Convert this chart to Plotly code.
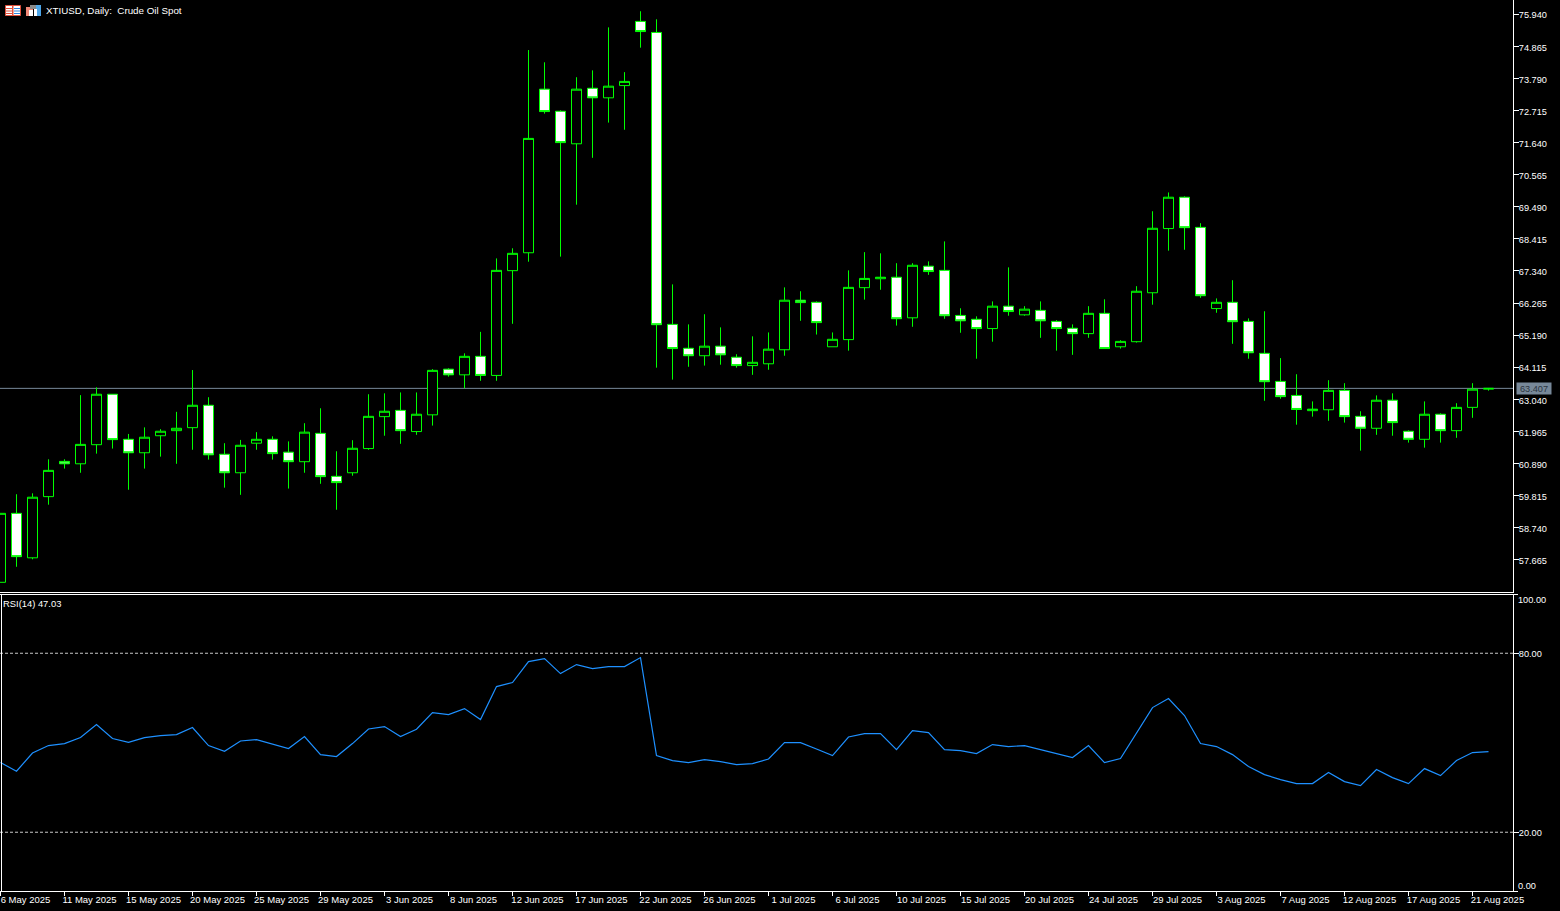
import plotly.graph_objects as go

TITLE = "XTIUSD, Daily:  Crude Oil Spot"
RSI_LABEL = "RSI(14) 47.03"
CURRENT_PRICE = 63.407

DATES = [
    "6 May 2025","7 May 2025","8 May 2025","9 May 2025","11 May 2025","12 May 2025","13 May 2025","14 May 2025",
    "15 May 2025","16 May 2025","18 May 2025","19 May 2025","20 May 2025","21 May 2025","22 May 2025","23 May 2025",
    "25 May 2025","26 May 2025","27 May 2025","28 May 2025","29 May 2025","30 May 2025","1 Jun 2025","2 Jun 2025",
    "3 Jun 2025","4 Jun 2025","5 Jun 2025","6 Jun 2025","8 Jun 2025","9 Jun 2025","10 Jun 2025","11 Jun 2025",
    "12 Jun 2025","13 Jun 2025","15 Jun 2025","16 Jun 2025","17 Jun 2025","18 Jun 2025","19 Jun 2025","20 Jun 2025",
    "22 Jun 2025","23 Jun 2025","24 Jun 2025","25 Jun 2025","26 Jun 2025","27 Jun 2025","29 Jun 2025","30 Jun 2025",
    "1 Jul 2025","2 Jul 2025","3 Jul 2025","4 Jul 2025","6 Jul 2025","7 Jul 2025","8 Jul 2025","9 Jul 2025",
    "10 Jul 2025","11 Jul 2025","13 Jul 2025","14 Jul 2025","15 Jul 2025","16 Jul 2025","17 Jul 2025","18 Jul 2025",
    "20 Jul 2025","21 Jul 2025","22 Jul 2025","23 Jul 2025","24 Jul 2025","25 Jul 2025","27 Jul 2025","28 Jul 2025",
    "29 Jul 2025","30 Jul 2025","31 Jul 2025","1 Aug 2025","3 Aug 2025","4 Aug 2025","5 Aug 2025","6 Aug 2025",
    "7 Aug 2025","8 Aug 2025","10 Aug 2025","11 Aug 2025","12 Aug 2025","13 Aug 2025","14 Aug 2025","15 Aug 2025",
    "17 Aug 2025","18 Aug 2025","19 Aug 2025","20 Aug 2025","21 Aug 2025","22 Aug 2025",
]

OPENS = [
    56.91,59.22,57.73,59.78,60.96,60.88,61.52,63.21,61.70,61.25,61.82,61.99,62.09,62.84,61.20,60.58,
    61.57,61.70,61.27,60.95,61.90,60.46,60.58,61.39,62.46,62.67,61.96,62.52,64.05,63.86,64.48,63.84,
    67.35,67.95,73.43,72.69,71.60,73.46,73.14,73.55,75.70,75.33,65.55,64.75,64.50,64.82,64.45,64.17,
    64.23,64.70,66.36,66.29,64.80,65.04,66.78,67.08,67.13,65.77,67.50,67.36,65.85,65.72,65.41,66.16,
    65.87,66.02,65.65,65.42,65.24,65.92,64.80,64.97,66.61,68.76,69.81,68.80,66.08,66.29,65.65,64.58,
    63.64,63.17,62.66,62.69,63.34,62.47,62.07,63.01,61.97,61.70,62.54,61.99,62.77,63.38,
]
HIGHS = [
    59.22,59.86,59.89,61.03,61.03,63.18,63.44,63.21,61.88,62.10,62.04,62.62,64.02,63.11,61.57,61.68,
    61.94,61.80,61.63,62.24,62.74,61.30,61.67,63.21,63.24,63.27,63.27,64.05,64.08,64.58,65.30,67.76,
    68.10,74.74,74.33,72.72,73.83,74.06,75.50,74.00,76.04,75.77,66.89,65.55,65.89,65.45,64.55,65.15,
    65.28,66.79,66.66,66.32,65.28,67.36,67.97,67.93,67.60,67.60,67.66,68.33,66.09,65.82,66.32,67.46,
    66.16,66.32,65.69,65.55,66.16,66.39,65.02,66.83,69.34,69.97,69.84,68.94,66.42,67.03,65.75,65.99,
    64.42,63.88,62.97,63.68,63.58,62.64,63.17,63.24,62.00,62.97,62.57,62.91,63.58,63.42,
]
LOWS = [
    56.91,57.43,57.68,59.51,60.72,60.58,61.22,61.39,60.01,60.72,61.12,60.88,61.35,61.02,60.08,59.84,
    61.35,61.02,60.05,60.58,60.21,59.34,60.48,61.35,61.82,61.55,61.85,62.16,63.80,63.41,63.66,63.66,
    65.57,67.65,72.61,67.82,69.56,71.13,72.31,72.07,74.82,64.10,63.70,64.13,64.17,64.20,64.10,63.86,
    64.03,64.50,65.67,65.21,64.80,64.67,66.38,66.71,65.51,65.47,67.21,65.74,65.27,64.40,64.97,65.84,
    65.84,65.10,64.67,64.53,65.10,64.74,64.74,64.94,66.21,68.02,68.05,66.44,65.94,64.90,64.40,62.99,
    63.06,62.19,62.46,62.32,62.26,61.32,61.85,61.82,61.59,61.42,61.59,61.75,62.42,63.33,
]
CLOSES = [
    59.22,57.77,59.76,60.66,60.88,61.53,63.21,61.69,61.25,61.77,61.97,62.07,62.84,61.18,60.58,61.50,
    61.70,61.22,60.95,61.94,60.45,60.25,61.40,62.47,62.64,61.99,62.54,64.01,63.86,64.48,63.84,67.36,
    67.93,71.78,72.68,71.64,73.43,73.14,73.53,73.69,75.36,65.54,64.74,64.50,64.82,64.53,64.17,64.28,
    64.72,66.36,66.28,65.61,65.05,66.79,67.09,67.13,65.74,67.53,67.32,65.84,65.67,65.41,66.16,65.98,
    66.06,65.67,65.41,65.24,65.92,64.74,64.98,66.66,68.77,69.81,68.79,66.51,66.29,65.64,64.60,63.63,
    63.13,62.70,62.71,63.34,62.46,62.07,63.01,62.26,61.70,62.54,61.99,62.77,63.38,63.407,
]
RSI = [
    43.35,40.44,46.57,49.05,49.72,51.73,56.09,51.40,50.16,51.73,52.40,52.74,55.09,49.05,47.14,50.59,
    51.06,49.59,48.05,52.07,46.03,45.37,49.72,54.61,55.42,52.07,54.52,60.12,59.45,61.45,57.77,68.83,
    70.17,77.21,78.21,73.19,76.20,74.87,75.54,75.54,78.55,45.70,44.02,43.35,44.36,43.69,42.69,43.01,
    44.56,50.06,50.06,47.92,45.70,51.93,53.07,53.07,47.71,54.08,53.41,47.71,47.38,46.37,49.39,48.72,
    49.05,47.71,46.37,45.03,49.05,43.35,44.69,53.41,61.79,64.81,59.11,49.72,48.72,46.03,42.01,39.33,
    37.65,36.31,36.31,40.00,36.98,35.64,41.01,38.32,36.31,41.34,38.99,44.03,46.71,47.03,
]
RSI_LEVELS = [20, 80]

PRICE_TICKS = ["75.940","74.865","73.790","72.715","71.640","70.565","69.490","68.415","67.340",
               "66.265","65.190","64.115","63.040","61.965","60.890","59.815","58.740","57.665"]
RSI_TICKS = ["20.00", "80.00"]
RSI_END_LABELS = ["0.00", "100.00"]
DATE_TICKS = ["6 May 2025","11 May 2025","15 May 2025","20 May 2025","25 May 2025","29 May 2025","3 Jun 2025",
              "8 Jun 2025","12 Jun 2025","17 Jun 2025","22 Jun 2025","26 Jun 2025","1 Jul 2025","6 Jul 2025",
              "10 Jul 2025","15 Jul 2025","20 Jul 2025","24 Jul 2025","29 Jul 2025","3 Aug 2025","7 Aug 2025",
              "12 Aug 2025","17 Aug 2025","21 Aug 2025"]

FONT = "Liberation Sans"
GREEN = "#00FF00"
WHITE = "#FFFFFF"
W, H = 1560, 911
L, R, T, B = 0, 47, 0, 20
PW, PH = W - L - R, H - T - B


def fx(px):
    return (px - L) / PW


def fy(py):
    return 1 - (py - T) / PH


fig = go.Figure()
fig.add_trace(go.Candlestick(
    x=DATES, open=OPENS, high=HIGHS, low=LOWS, close=CLOSES,
    increasing=dict(line=dict(color=GREEN, width=1), fillcolor="#000000"),
    decreasing=dict(line=dict(color=GREEN, width=1), fillcolor=WHITE),
    whiskerwidth=0, xaxis="x", yaxis="y", showlegend=False, hoverinfo="skip",
))
fig.add_trace(go.Scatter(
    x=DATES, y=RSI, mode="lines", line=dict(color="#1E90FF", width=1.2),
    xaxis="x2", yaxis="y2", showlegend=False, hoverinfo="skip",
))

Y1_BOTTOM, Y2_TOP = 592, 595

shapes = [dict(type="line", xref="x domain", yref="y", x0=0, x1=1, y0=CURRENT_PRICE, y1=CURRENT_PRICE,
               line=dict(color="#778899", width=1), layer="below")]
for lv in RSI_LEVELS:
    shapes.append(dict(type="line", xref="x2 domain", yref="y2", x0=0, x1=1, y0=lv, y1=lv,
                       line=dict(color="#C8C8C8", width=1, dash="3px,2px"), layer="below"))


def rect(x0, y0, x1, y1, fill, line=None):
    return dict(type="rect", xref="paper", yref="paper", x0=fx(x0), x1=fx(x1), y0=fy(y0), y1=fy(y1),
                fillcolor=fill, line=dict(color=line or fill, width=1 if line else 0))


RED, BLUE = "#E0503C", "#2E86DE"
shapes += [
    rect(1, Y2_TOP - 1, 2, 891, WHITE),
    rect(1513, 891, 1518, 892, WHITE),
    rect(1513, 594, 1518, 595, WHITE),
    rect(5.5, 5.5, 20.5, 15.5, WHITE, RED),
    rect(6, 8, 12, 9, RED), rect(6, 10.5, 12, 11.5, RED), rect(6, 13, 12, 14, RED),
    rect(14, 8, 20, 9, BLUE), rect(14, 10.5, 20, 11.5, BLUE), rect(14, 13, 20, 14, BLUE),
    rect(12, 6, 13.5, 15, RED),
    rect(26, 7, 33, 16, "#F08878"), rect(29, 10, 33, 16, WHITE), rect(34, 5, 41, 16, "#4DA6E8"),
    rect(34, 9, 37, 16, WHITE), rect(30, 5, 36, 9, "#8A8A8A"),
]


def tf(size):
    return dict(family=FONT, size=size, color=WHITE)


annotations = [
    dict(xref="paper", yref="paper", x=fx(44), y=fy(10.5), text=TITLE, showarrow=False, xanchor="left",
         yanchor="middle", font=tf(9.8)),
    dict(xref="paper", yref="paper", x=fx(1), y=fy(603), text=RSI_LABEL, showarrow=False, xanchor="left",
         yanchor="middle", font=tf(9.4)),
    dict(xref="paper", yref="y", x=1, xanchor="left", xshift=3, y=CURRENT_PRICE, text=f"{CURRENT_PRICE:.3f}",
         showarrow=False, bgcolor="#778899", width=34, height=11, borderpad=0, align="center",
         font=dict(family=FONT, size=9.2, color="#2B3540")),
    dict(xref="paper", yref="paper", x=fx(1516), xanchor="left", y=fy(885.7), yanchor="middle",
         text=RSI_END_LABELS[0], showarrow=False, font=tf(9.2)),
    dict(xref="paper", yref="paper", x=fx(1516), xanchor="left", y=fy(599.5), yanchor="middle",
         text=RSI_END_LABELS[1], showarrow=False, font=tf(9.2)),
]

axis_common = dict(showgrid=False, zeroline=False, color=WHITE, linecolor=WHITE, linewidth=1,
                   tickcolor=WHITE, tickwidth=1)
xrange = [-0.5 / 16, (W - R - 0.5) / 16]

fig.update_layout(
    width=W, height=H, margin=dict(l=L, r=R, t=T, b=B, autoexpand=False),
    paper_bgcolor="#000000", plot_bgcolor="#000000", showlegend=False, hovermode=False,
    boxgap=0.375, boxgroupgap=0,
    shapes=shapes, annotations=annotations,
    xaxis=dict(axis_common, type="category", categoryorder="array", categoryarray=DATES, range=xrange,
               domain=[0, 1], anchor="y", rangeslider=dict(visible=False), showline=True, showticklabels=False,
               ticks=""),
    xaxis2=dict(axis_common, type="category", categoryorder="array", categoryarray=DATES, range=xrange,
                domain=[0, 1], anchor="y2", showline=True, mirror=True, ticks="outside", ticklen=4,
                tickmode="array", tickvals=DATE_TICKS, ticktext=DATE_TICKS, tickangle=0, tickfont=tf(9.5),
                ticklabelshift=25, ticklabelstandoff=-4),
    yaxis=dict(axis_common, domain=[fy(Y1_BOTTOM), 1], anchor="x", side="right",
               range=[76.417 - 0.0335 * Y1_BOTTOM, 76.417],
               showline=True, ticks="outside", ticklen=5, tickmode="array", tickfont=tf(9.2),
               tickvals=[float(t) for t in PRICE_TICKS], ticktext=PRICE_TICKS,
               ticklabelshift=1, ticklabelstandoff=-2),
    yaxis2=dict(axis_common, domain=[0, fy(Y2_TOP)], anchor="x2", side="right", range=[0.3, 99.53],
                showline=True, ticks="outside", ticklen=5, tickmode="array", tickfont=tf(9.2),
                tickvals=[float(t) for t in RSI_TICKS], ticktext=RSI_TICKS,
                ticklabelshift=1, ticklabelstandoff=-2),
)

fig.write_html("out.html", config=dict(displayModeBar=False),
               post_script="document.body.style.margin='0';document.body.style.background='#000';"
                           "document.documentElement.style.overflow='hidden';")
